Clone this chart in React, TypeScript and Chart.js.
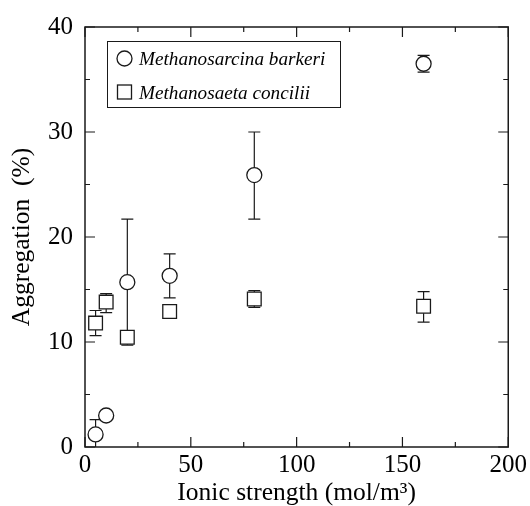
import React, { useEffect, useRef } from "react";
import { Chart, registerables } from "chart.js";

Chart.register(...registerables);

// ---- data ----
const ionicStrength = [5, 10, 20, 40, 80, 160];

const barkeriLabel = "Methanosarcina barkeri";
const barkeriMean = [1.2, 3.0, 15.7, 16.3, 25.9, 36.5];
const barkeriLow = [-0.2, 3.0, 9.7, 14.2, 21.7, 35.7];
const barkeriHigh = [2.6, 3.0, 21.7, 18.4, 30.0, 37.3];

const conciliiLabel = "Methanosaeta concilii";
const conciliiMean = [11.8, 13.8, 10.45, 12.9, 14.1, 13.4];
const conciliiLow = [10.6, 12.8, 10.0, 12.3, 13.3, 11.9];
const conciliiHigh = [13.0, 14.6, 10.8, 13.5, 14.9, 14.8];

const xTicks = [0, 50, 100, 150, 200];
const yTicks = [0, 10, 20, 30, 40];
const xMinorTicks = [25, 75, 125, 175];
const yMinorTicks = [5, 15, 25, 35];

const xTitle = "Ionic strength (mol/m\u00B3)";
const yTitle = "Aggregation  (%)";

const SERIF = "'Liberation Serif', 'Times New Roman', Times, serif";
const INK = "#1a1a1a";

const errorBarPlugin = {
  id: "errorBars",
  beforeDatasetsDraw(chart: any) {
    const { ctx, chartArea, scales } = chart;
    const xs = scales.x;
    const ys = scales.y;
    ctx.save();
    ctx.beginPath();
    ctx.rect(chartArea.left, chartArea.top, chartArea.right - chartArea.left, chartArea.bottom - chartArea.top);
    ctx.clip();
    ctx.strokeStyle = INK;
    ctx.lineWidth = 1.2;
    chart.data.datasets.forEach((ds: any) => {
      ds.data.forEach((p: any, i: number) => {
        const px = xs.getPixelForValue(p.x);
        const yl = ys.getPixelForValue(ds.errLow[i]);
        const yh = ys.getPixelForValue(ds.errHigh[i]);
        if (Math.abs(yl - yh) < 0.5) return;
        ctx.beginPath();
        ctx.moveTo(px, yl);
        ctx.lineTo(px, yh);
        ctx.moveTo(px - 6, yl);
        ctx.lineTo(px + 6, yl);
        ctx.moveTo(px - 6, yh);
        ctx.lineTo(px + 6, yh);
        ctx.stroke();
      });
    });
    ctx.restore();
  },
};

const framePlugin = {
  id: "frameTicks",
  afterDraw(chart: any) {
    const { ctx, chartArea, scales } = chart;
    const { left, right, top, bottom } = chartArea;
    const xs = scales.x;
    const ys = scales.y;
    ctx.save();
    ctx.strokeStyle = INK;
    ctx.lineWidth = 1.2;
    ctx.beginPath();
    const tick = (vals: number[], len: number) => {
      vals.forEach((v) => {
        const px = xs.getPixelForValue(v);
        ctx.moveTo(px, bottom);
        ctx.lineTo(px, bottom - len);
        ctx.moveTo(px, top);
        ctx.lineTo(px, top + len);
      });
    };
    const ytick = (vals: number[], len: number) => {
      vals.forEach((v) => {
        const py = ys.getPixelForValue(v);
        ctx.moveTo(left, py);
        ctx.lineTo(left + len, py);
        ctx.moveTo(right, py);
        ctx.lineTo(right - len, py);
      });
    };
    tick(xTicks, 10);
    tick(xMinorTicks, 5);
    ytick(yTicks, 10);
    ytick(yMinorTicks, 5);
    ctx.stroke();
    ctx.lineWidth = 1.5;
    ctx.strokeRect(left, top, right - left, bottom - top);

    // legend
    const lx = 107.5, ly = 41.5, lw = 233, lh = 66;
    ctx.lineWidth = 1;
    ctx.fillStyle = "#fff";
    ctx.fillRect(lx, ly, lw, lh);
    ctx.strokeRect(lx, ly, lw, lh);
    ctx.lineWidth = 1.3;
    ctx.beginPath();
    ctx.arc(124.5, 58.5, 7.5, 0, Math.PI * 2);
    ctx.stroke();
    ctx.strokeRect(117.5, 85, 14, 14);
    ctx.fillStyle = "#000";
    ctx.font = `italic 19.2px ${SERIF}`;
    ctx.textAlign = "left";
    ctx.textBaseline = "alphabetic";
    const labels = chart.data.datasets.map((d: any) => d.label);
    ctx.fillText(labels[0], 139, 64.5);
    ctx.fillText(labels[1], 139, 98.5);
    ctx.restore();
  },
};

export default function App() {
  const ref = useRef<HTMLCanvasElement | null>(null);

  useEffect(() => {
    if (!ref.current) return;
    const chart = new Chart(ref.current, {
      type: "scatter",
      data: {
        datasets: [
          {
            label: barkeriLabel,
            data: ionicStrength.map((x, i) => ({ x, y: barkeriMean[i] })),
            errLow: barkeriLow,
            errHigh: barkeriHigh,
            pointStyle: "circle",
            pointRadius: 7.5,
            pointBorderWidth: 1.3,
            borderColor: INK,
            backgroundColor: "#fff",
          } as any,
          {
            label: conciliiLabel,
            data: ionicStrength.map((x, i) => ({ x, y: conciliiMean[i] })),
            errLow: conciliiLow,
            errHigh: conciliiHigh,
            pointStyle: "rect",
            pointRadius: 9.7,
            pointBorderWidth: 1.3,
            borderColor: INK,
            backgroundColor: "#fff",
          } as any,
        ],
      },
      options: {
        responsive: false,
        animation: false,
        events: [],
        layout: { padding: { left: 0, right: 19, top: 22, bottom: 0 } },
        plugins: {
          legend: { display: false },
          tooltip: { enabled: false },
        },
        scales: {
          x: {
            type: "linear",
            min: 0,
            max: 200,
            afterFit: (s: any) => {
              s.height = 59;
            },
            afterBuildTicks: (s: any) => {
              s.ticks = xTicks.map((v) => ({ value: v }));
            },
            grid: { display: false, drawTicks: false },
            border: { display: false },
            ticks: {
              color: "#000",
              padding: 3,
              maxRotation: 0,
              font: { family: SERIF, size: 25 },
            },
            title: {
              display: true,
              text: xTitle,
              color: "#000",
              font: { family: SERIF, size: 25.5, lineHeight: 1 },
              padding: { top: 0, bottom: 0 },
            },
          },
          y: {
            type: "linear",
            min: 0,
            max: 40,
            afterFit: (s: any) => {
              s.width = 85;
            },
            afterBuildTicks: (s: any) => {
              s.ticks = yTicks.map((v) => ({ value: v }));
            },
            grid: { display: false, drawTicks: false },
            border: { display: false },
            ticks: {
              color: "#000",
              padding: 12,
              font: { family: SERIF, size: 25 },
            },
            title: {
              display: true,
              text: yTitle,
              color: "#000",
              font: { family: SERIF, size: 25.5, lineHeight: 1 },
              padding: { top: 10, bottom: 0 },
            },
          },
        },
      } as any,
      plugins: [errorBarPlugin, framePlugin],
    });
    return () => chart.destroy();
  }, []);

  return (
    <div style={{ position: "fixed", left: 0, top: 0, width: 530, height: 506, background: "#fff" }}>
      <canvas ref={ref} width={530} height={506} style={{ display: "block" }} />
    </div>
  );
}
